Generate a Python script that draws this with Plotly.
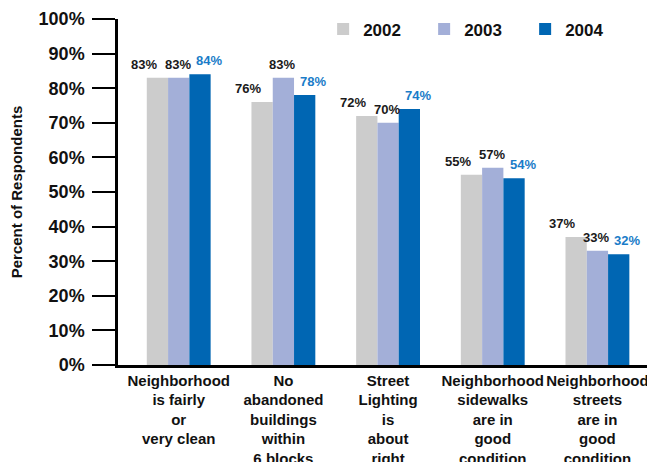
import plotly.graph_objects as go

categories = [
    "Neighborhood<br>is fairly<br>or<br>very clean",
    "No<br>abandoned<br>buildings<br>within<br>6 blocks",
    "Street<br>Lighting<br>is<br>about<br>right",
    "Neighborhood<br>sidewalks<br>are in<br>good<br>condition",
    "Neighborhood<br>streets<br>are in<br>good<br>condition",
]
years = ["2002", "2003", "2004"]
values_2002 = [83, 76, 72, 55, 37]
values_2003 = [83, 83, 70, 57, 33]
values_2004 = [84, 78, 74, 54, 32]
y_ticks = [0, 10, 20, 30, 40, 50, 60, 70, 80, 90, 100]

series = [values_2002, values_2003, values_2004]
bar_colors = ["#CCCCCC", "#A3AFD8", "#0066B3"]
label_colors = ["#1A1A1A", "#1A1A1A", "#1A7CC8"]
label_xshift = [-35, -1, 30]  # label offsets (px) from group centre, as in the source

REG = "Liberation Sans, Arial, sans-serif"

fig = go.Figure()
for name, vals, col in zip(years, series, bar_colors):
    fig.add_trace(go.Bar(
        name=name, x=categories, y=vals,
        marker=dict(color=col, line=dict(width=0)),
        cliponaxis=False,
    ))

annotations = []
for vals, lcol, dx in zip(series, label_colors, label_xshift):
    for cat, v in zip(categories, vals):
        annotations.append(dict(
            x=cat, y=v, xref="x", yref="y", text=f"{v}%", showarrow=False,
            xanchor="center", yanchor="bottom", xshift=dx, yshift=4,
            font=dict(family=REG, size=13, color=lcol, weight="bold"),
        ))

fig.update_layout(
    width=647, height=454,
    margin=dict(l=110, r=0, t=11, b=97, autoexpand=False),
    paper_bgcolor="white", plot_bgcolor="white",
    barmode="group", bargap=0.39, bargroupgap=0,
    showlegend=True,
    legend=dict(
        orientation="h", x=0.382, xanchor="left", y=0.97, yanchor="middle",
        font=dict(family=REG, size=17, color="#111111", weight="bold"),
        entrywidth=56, bgcolor="rgba(0,0,0,0)", borderwidth=0,
    ),
    annotations=annotations,
    font=dict(family=REG, color="#111111"),
)
fig.update_xaxes(
    type="category", range=[-0.58, 4.55], automargin=False,
    showline=True, linewidth=2.5, linecolor="black",
    ticks="", showgrid=False, zeroline=False,
    tickfont=dict(family=REG, size=15, color="#111111", weight="bold"),
)
fig.update_yaxes(
    range=[0, 100], tickvals=y_ticks, ticktext=[f"{t}%" for t in y_ticks],
    automargin=False,
    showline=True, linewidth=2.5, linecolor="black",
    ticks="outside", ticklen=23, tickwidth=1.5, tickcolor="black",
    showgrid=False, zeroline=False, ticklabelstandoff=4,
    tickfont=dict(family=REG, size=18, color="#111111", weight="bold"),
    title=dict(text="Percent of Respondents", standoff=14,
               font=dict(family=REG, size=15, color="#111111", weight="bold")),
)

fig.write_html("out.html")
